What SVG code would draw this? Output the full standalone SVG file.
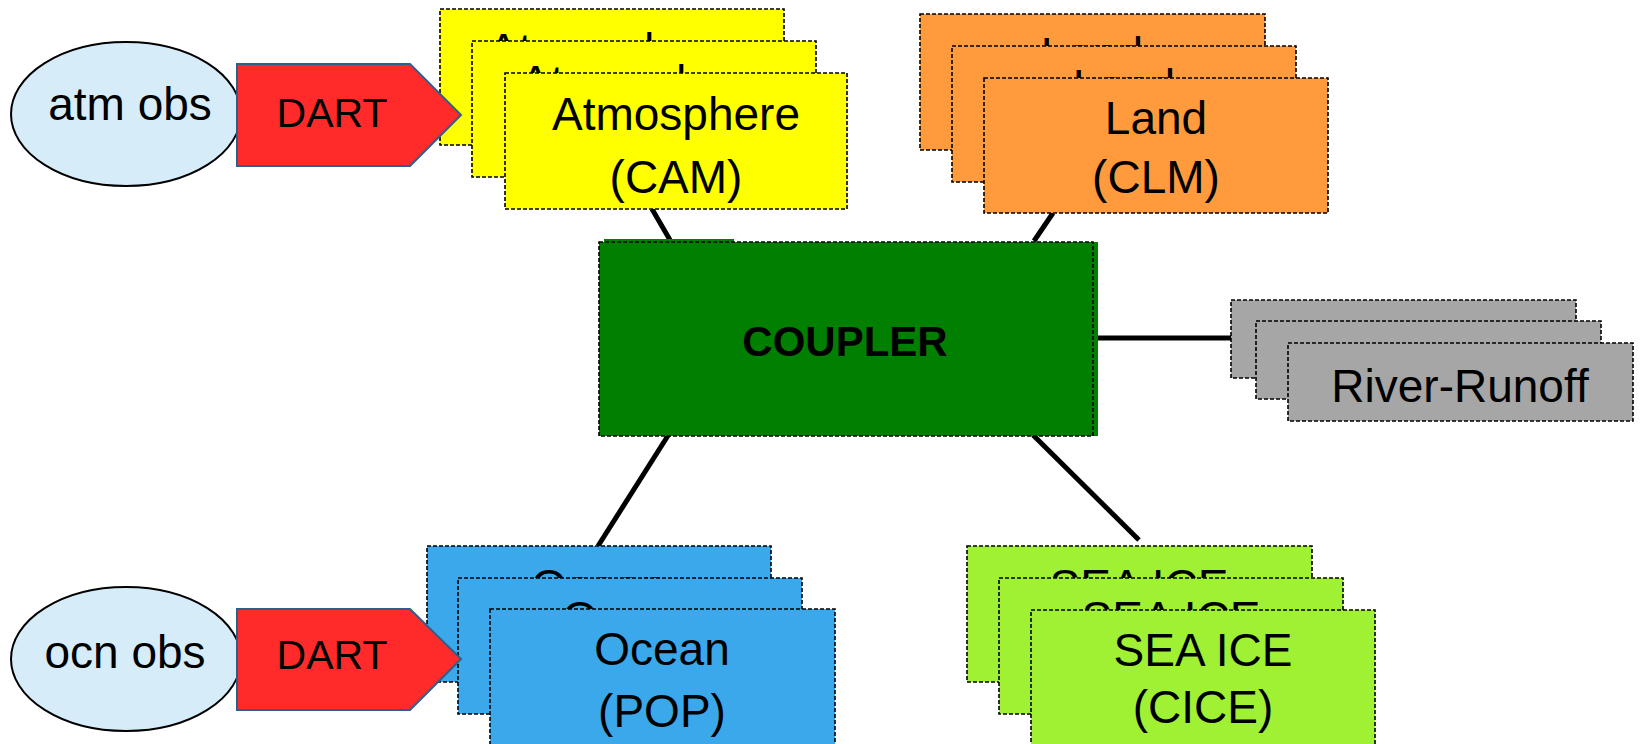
<svg xmlns="http://www.w3.org/2000/svg" width="1640" height="744" viewBox="0 0 1640 744">
<style>
text{font-family:"Liberation Sans",Arial,sans-serif;fill:#000;text-anchor:middle}
.t{font-size:46px}
.box{stroke:#000;stroke-width:1.6;stroke-dasharray:4 2}
.atm{fill:#FFFF00}.lnd{fill:#FF9B3C}.ocn{fill:#3AA8EA}.ice{fill:#A0F033}.riv{fill:#A6A6A6}
.obs{fill:#D6ECF8;stroke:#000;stroke-width:2}
.dart{fill:#FF2A2A;stroke:#2E5F8A;stroke-width:2}
.conn{stroke:#000;stroke-width:5;fill:none}
</style>
<rect width="1640" height="744" fill="#fff"/>
<g id="connectors">
<line class="conn" x1="652" y1="209" x2="670" y2="240"/>
<line class="conn" x1="1053" y1="213" x2="1034" y2="241"/>
<line class="conn" x1="1093" y1="338" x2="1232" y2="338"/>
<line class="conn" x1="669" y1="434" x2="598" y2="546"/>
<line class="conn" x1="1033" y1="435" x2="1139" y2="540"/>
</g>
<g id="atmosphere">
<rect class="box atm" x="440" y="9" width="344" height="136"/>
<text class="t" x="612" y="66">Atmosphere</text>
<rect class="box atm" x="472" y="41" width="344" height="136"/>
<text class="t" x="644" y="98">Atmosphere</text>
<rect class="box atm" x="505" y="73" width="342" height="136"/>
<text class="t" x="676" y="130">Atmosphere</text>
<text class="t" x="676" y="193">(CAM)</text>
</g>
<g id="land">
<rect class="box lnd" x="920" y="14" width="345" height="136"/>
<text class="t" x="1092" y="70">Land</text>
<rect class="box lnd" x="952" y="46" width="344" height="136"/>
<text class="t" x="1124" y="102">Land</text>
<rect class="box lnd" x="984" y="78" width="344" height="135"/>
<text class="t" x="1156" y="134">Land</text>
<text class="t" x="1156" y="193">(CLM)</text>
</g>
<g id="coupler">
<rect x="604" y="239" width="130" height="5" fill="#007F00"/>
<rect x="604" y="242" width="494" height="194" fill="#007F00"/>
<rect class="box" x="599" y="242" width="494" height="194" fill="#007F00"/>
<text x="845" y="356" font-size="42" font-weight="bold">COUPLER</text>
</g>
<g id="river-runoff">
<rect class="box riv" x="1231" y="300" width="345" height="78"/>
<text class="t" x="1403" y="359">River-Runoff</text>
<rect class="box riv" x="1256" y="321" width="345" height="78"/>
<text class="t" x="1428" y="380">River-Runoff</text>
<rect class="box riv" x="1288" y="343" width="345" height="78"/>
<text class="t" x="1460" y="402">River-Runoff</text>
</g>
<g id="ocean">
<rect class="box ocn" x="427" y="546" width="344" height="136"/>
<text class="t" x="599" y="602">Ocean</text>
<rect class="box ocn" x="458" y="578" width="344" height="136"/>
<text class="t" x="630" y="634">Ocean</text>
<rect class="box ocn" x="490" y="609" width="345" height="137"/>
<text class="t" x="662" y="665">Ocean</text>
<text class="t" x="662" y="727">(POP)</text>
</g>
<g id="sea-ice">
<rect class="box ice" x="967" y="546" width="345" height="136"/>
<text class="t" x="1139" y="602">SEA ICE</text>
<rect class="box ice" x="999" y="578" width="344" height="136"/>
<text class="t" x="1171" y="634">SEA ICE</text>
<rect class="box ice" x="1031" y="610" width="344" height="136"/>
<text class="t" x="1203" y="666">SEA ICE</text>
<text class="t" x="1203" y="723">(CICE)</text>
</g>
<g id="atm-obs">
<ellipse class="obs" cx="126" cy="114" rx="115" ry="72"/>
<text class="t" x="130" y="120">atm obs</text>
</g>
<g id="dart-atm">
<polygon class="dart" points="237,64 410,64 461,115 410,166 237,166"/>
<text x="332" y="127" font-size="41">DART</text>
</g>
<g id="ocn-obs">
<ellipse class="obs" cx="126" cy="659" rx="115" ry="72"/>
<text class="t" x="125" y="668">ocn obs</text>
</g>
<g id="dart-ocn">
<polygon class="dart" points="237,609 410,609 461,659 410,710 237,710"/>
<text x="332" y="669" font-size="41">DART</text>
</g>
</svg>
